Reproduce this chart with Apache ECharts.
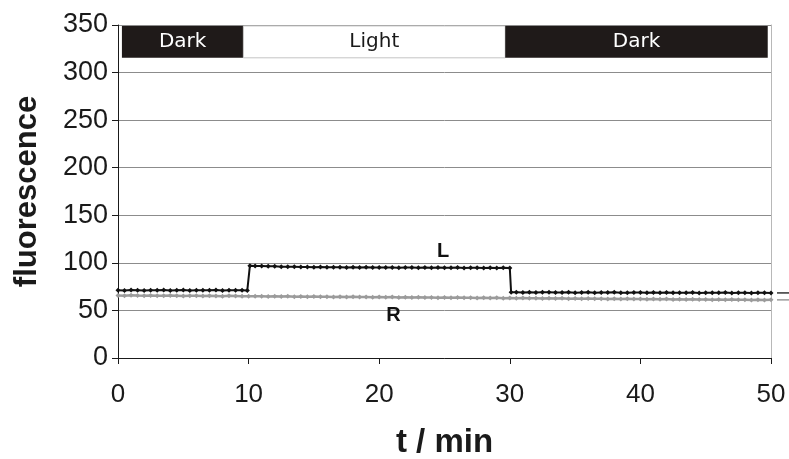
<!DOCTYPE html>
<html>
<head>
<meta charset="utf-8">
<script src="https://cdn.jsdelivr.net/npm/echarts@6/dist/echarts.min.js"></script>
<style>
  html, body { margin: 0; padding: 0; background: #fff; }
  #chart { width: 789px; height: 459px; }
</style>
</head>
<body>
<div id="chart"></div>
<script>
// Time axis ticks (minutes) and fluorescence ticks
const xTicks = [0, 10, 20, 30, 40, 50];
const yTicks = [0, 50, 100, 150, 200, 250, 300, 350];

// Illumination phases: [start, end, label]
const phases = [
  [0.3, 9.6, 'Dark'],
  [9.6, 29.65, 'Light'],
  [29.65, 49.75, 'Dark']
];

// Trace L: sampled times and fluorescence
const timeL = [
  0, 0.5, 1, 1.5, 2, 2.5, 3, 3.5, 4, 4.5, 5, 5.5, 6, 6.5, 7, 7.5, 8, 8.5, 9, 9.5, 9.9,
  10.1, 10.5, 11, 11.5, 12, 12.5, 13, 13.5, 14, 14.5, 15, 15.5, 16, 16.5, 17, 17.5, 18, 18.5, 19, 19.5,
  20, 20.5, 21, 21.5, 22, 22.5, 23, 23.5, 24, 24.5, 25, 25.5, 26, 26.5, 27, 27.5, 28, 28.5, 29, 29.5, 30,
  30.1, 30.5, 31, 31.5, 32, 32.5, 33, 33.5, 34, 34.5, 35, 35.5, 36, 36.5, 37, 37.5, 38, 38.5, 39, 39.5,
  40, 40.5, 41, 41.5, 42, 42.5, 43, 43.5, 44, 44.5, 45, 45.5, 46, 46.5, 47, 47.5, 48, 48.5, 49, 49.5, 50
];
const valueL = [
  71.3, 71.0, 71.4, 71.2, 70.9, 71.3, 71.1, 71.5, 71.0, 71.2, 71.4, 70.9, 71.3, 71.1, 71.2, 71.5, 71.0, 71.3, 71.1, 71.2, 71.0,
  97.0, 96.7, 96.8, 96.4, 96.5, 96.0, 95.8, 95.9, 95.6, 95.7, 95.5, 95.6, 95.3, 95.5, 95.4, 95.2, 95.4, 95.1, 95.3, 95.2,
  95.0, 95.2, 95.1, 94.9, 95.1, 95.0, 94.8, 95.0, 94.9, 95.1, 94.8, 94.9, 95.0, 94.7, 94.9, 94.8, 94.6, 94.9, 94.7, 94.8, 94.6,
  69.0, 69.2, 68.9, 69.1, 68.8, 69.0, 69.2, 68.8, 68.9, 69.1, 68.7, 68.9, 69.0, 68.6, 68.9, 68.8, 69.0, 68.7, 68.6, 68.9,
  68.8, 68.5, 68.8, 68.7, 68.9, 68.5, 68.7, 68.6, 68.8, 68.4, 68.7, 68.6, 68.5, 68.8, 68.4, 68.6, 68.7, 68.3, 68.6, 68.5, 68.4
];

// Trace R: sampled every half minute
const timeR = [
  0, 0.5, 1, 1.5, 2, 2.5, 3, 3.5, 4, 4.5, 5, 5.5, 6, 6.5, 7, 7.5, 8, 8.5, 9, 9.5,
  10, 10.5, 11, 11.5, 12, 12.5, 13, 13.5, 14, 14.5, 15, 15.5, 16, 16.5, 17, 17.5, 18, 18.5, 19, 19.5,
  20, 20.5, 21, 21.5, 22, 22.5, 23, 23.5, 24, 24.5, 25, 25.5, 26, 26.5, 27, 27.5, 28, 28.5, 29, 29.5,
  30, 30.5, 31, 31.5, 32, 32.5, 33, 33.5, 34, 34.5, 35, 35.5, 36, 36.5, 37, 37.5, 38, 38.5, 39, 39.5,
  40, 40.5, 41, 41.5, 42, 42.5, 43, 43.5, 44, 44.5, 45, 45.5, 46, 46.5, 47, 47.5, 48, 48.5, 49, 49.5, 50
];
const valueR = [
  65.8, 65.5, 65.9, 65.6, 65.4, 65.7, 65.5, 65.3, 65.6, 65.4, 65.2, 65.5, 65.3, 65.1, 65.4, 65.2, 65.0, 65.3, 65.1, 64.9,
  65.0, 64.8, 65.0, 64.7, 64.9, 64.6, 64.8, 64.5, 64.7, 64.4, 64.6, 64.3, 64.5, 64.2, 64.4, 64.1, 64.3, 64.0, 64.2, 63.9,
  64.1, 63.8, 64.0, 63.7, 63.9, 63.6, 63.8, 63.5, 63.7, 63.4, 63.6, 63.3, 63.5, 63.2, 63.4, 63.1, 63.3, 63.0, 63.2, 62.9,
  63.1, 62.8, 63.0, 62.7, 62.9, 62.6, 62.8, 62.5, 62.7, 62.4, 62.6, 62.3, 62.5, 62.2, 62.4, 62.1, 62.3, 62.0, 62.2, 61.9,
  62.1, 61.8, 62.0, 61.7, 61.9, 61.6, 61.8, 61.5, 61.7, 61.4, 61.6, 61.3, 61.5, 61.2, 61.4, 61.1, 61.3, 61.0, 61.2, 60.9, 61.1
];

// Trace name labels placed in data space: [time, fluorescence, text]
const traceLabels = [
  [24.9, 112, 'L'],
  [21.1, 44.5, 'R']
];

const tickFont = '"Liberation Sans Narrow", "Liberation Sans", Arial, sans-serif';
const boldFont = '"Liberation Sans", Arial, sans-serif';
const ink = '#1a1a1a';

const pairs = (ts, vs) => ts.map((t, i) => [t, vs[i]]);
const lastOf = (arr) => arr[arr.length - 1];

// Short dash just past the right edge, at the trace's final value
const endDash = (ts, vs, color) => ({
  coord: [lastOf(ts), lastOf(vs)],
  symbol: 'rect', symbolSize: [12, 1.5], symbolOffset: [12, 0],
  itemStyle: { color }, label: { show: false }
});

const chart = echarts.init(document.getElementById('chart'), null, { renderer: 'canvas' });

chart.setOption({
  animation: false,
  backgroundColor: '#ffffff',
  grid: { left: 118, right: 18, top: 25, bottom: 101, outerBoundsMode: 'none', containLabel: false },
  xAxis: {
    type: 'value',
    min: xTicks[0],
    max: lastOf(xTicks),
    interval: 10,
    name: 't / min',
    nameLocation: 'middle',
    nameGap: 68,
    nameTextStyle: { fontFamily: boldFont, fontWeight: 'bold', fontSize: 33, color: ink },
    axisLine: { lineStyle: { color: ink, width: 1 } },
    axisTick: { inside: false, length: 6, lineStyle: { color: ink } },
    axisLabel: { margin: 24, fontFamily: tickFont, fontSize: 26, color: ink },
    splitLine: { show: false }
  },
  yAxis: [
    {
      type: 'value',
      min: yTicks[0],
      max: lastOf(yTicks),
      interval: 50,
      name: 'fluorescence',
      nameLocation: 'middle',
      nameGap: 75,
      nameTextStyle: { fontFamily: boldFont, fontWeight: 'bold', fontSize: 31, color: ink },
      axisLine: { show: true, lineStyle: { color: ink, width: 1 } },
      axisTick: { show: true, length: 6, lineStyle: { color: ink } },
      axisLabel: { margin: 10, fontFamily: tickFont, fontSize: 27, color: ink },
      splitLine: { show: true, lineStyle: { color: '#8c8c8c', width: 1 } }
    },
    {
      type: 'value',
      position: 'right',
      min: yTicks[0],
      max: lastOf(yTicks),
      interval: 50,
      axisLine: { show: true, lineStyle: { color: '#b8b8b8', width: 1 } },
      axisTick: { show: false },
      axisLabel: { show: false },
      splitLine: { show: false }
    }
  ],
  series: [
    {
      name: 'phases',
      type: 'line',
      data: [],
      silent: true,
      markArea: {
        silent: true,
        data: phases.map(([a, b, txt]) => {
          const dark = txt === 'Dark';
          return [
            {
              xAxis: a, yAxis: 349,
              itemStyle: dark
                ? { color: '#1f1a19', borderColor: '#1f1a19', borderWidth: 0, opacity: 1 }
                : { color: '#ffffff', borderColor: '#c4c4c4', borderWidth: 1, opacity: 1 },
              label: {
                show: true, position: 'inside', formatter: txt,
                fontFamily: '"DejaVu Sans", sans-serif', fontSize: 20,
                color: dark ? '#ffffff' : ink
              }
            },
            { xAxis: b, yAxis: 315.5 }
          ];
        })
      }
    },
    {
      name: 'R',
      type: 'line',
      data: pairs(timeR, valueR),
      showAllSymbol: true,
      symbol: 'diamond',
      symbolSize: 5,
      lineStyle: { color: '#9b9b9b', width: 2.5 },
      itemStyle: { color: '#9b9b9b' },
      z: 3,
      markPoint: { silent: true, data: [endDash(timeR, valueR, '#9b9b9b')] }
    },
    {
      name: 'L',
      type: 'line',
      data: pairs(timeL, valueL),
      showAllSymbol: true,
      symbol: 'diamond',
      symbolSize: 5,
      lineStyle: { color: '#111111', width: 2 },
      itemStyle: { color: '#111111' },
      z: 4,
      markPoint: { silent: true, data: [endDash(timeL, valueL, '#333333')] }
    },
    {
      name: 'labels',
      type: 'scatter',
      silent: true,
      data: traceLabels.map(([t, v, txt]) => ({ value: [t, v], name: txt })),
      symbol: 'rect',
      symbolSize: 1,
      itemStyle: { color: '#ffffff', opacity: 1 },
      label: {
        show: true, position: 'inside', formatter: '{b}',
        fontFamily: boldFont, fontWeight: 'bold', fontSize: 20, color: '#111111', opacity: 1
      },
      z: 5
    }
  ]
});
</script>
</body>
</html>
